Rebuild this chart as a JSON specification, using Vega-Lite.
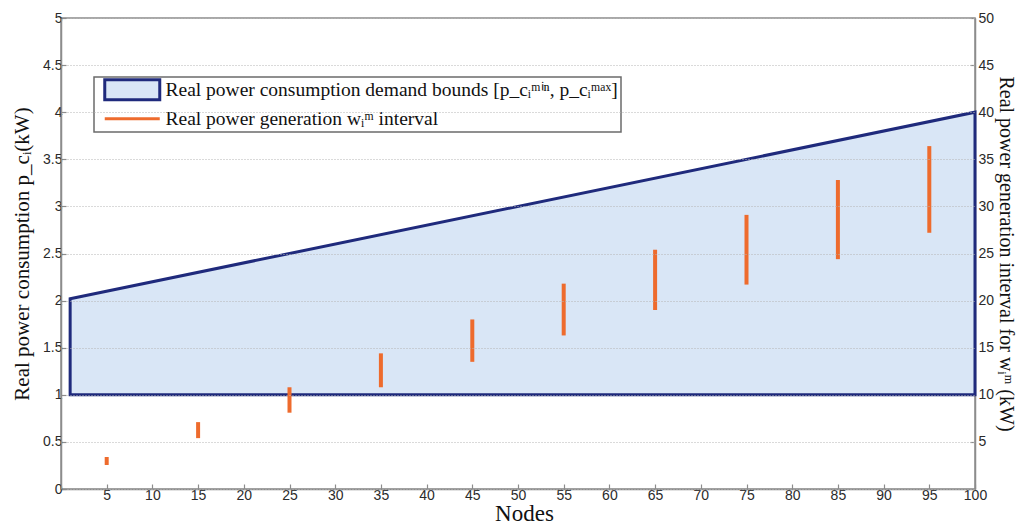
{
  "$schema": "https://vega.github.io/schema/vega-lite/v6.json",
  "width": 914,
  "height": 471,
  "autosize": {"type": "none"},
  "padding": {"left": 61, "top": 18, "right": 43, "bottom": 36},
  "background": "white",
  "config": {
    "view": {"stroke": "#8c8c8c", "strokeWidth": 1.5},
    "axis": {
      "labelFont": "Liberation Sans",
      "labelFontSize": 14,
      "labelColor": "#2a2a2a",
      "titleFont": "Liberation Serif",
      "titleFontSize": 21,
      "titleFontWeight": "normal",
      "titleColor": "#111111",
      "domainColor": "#8c8c8c",
      "domainWidth": 1.5,
      "tickColor": "#8c8c8c",
      "tickWidth": 1.2,
      "tickSize": -5
    },
    "legend": {
      "orient": "none", "legendX": 33, "legendY": 59,
      "title": null,
      "fillColor": "white", "strokeColor": "#6b6b6b",
      "padding": 3,
      "labelFont": "Liberation Serif", "labelFontSize": 19.5, "labelColor": "#111111", "labelLimit": 0,
      "symbolSize": 100, "labelOffset": 49, "rowPadding": 2
    }
  },
  "datasets": {
    "demand": [
      {"node": 1, "lower": 1, "upper": 2.02},
      {"node": 100, "lower": 1, "upper": 4.0}
    ],
    "gen": [
      {"node": 5, "lo": 2.55, "hi": 3.4, "series": "Real power generation wᵢᵐ interval"},
      {"node": 15, "lo": 5.4, "hi": 7.1, "series": "Real power generation wᵢᵐ interval"},
      {"node": 25, "lo": 8.1, "hi": 10.8, "series": "Real power generation wᵢᵐ interval"},
      {"node": 35, "lo": 10.8, "hi": 14.4, "series": "Real power generation wᵢᵐ interval"},
      {"node": 45, "lo": 13.5, "hi": 18.0, "series": "Real power generation wᵢᵐ interval"},
      {"node": 55, "lo": 16.3, "hi": 21.8, "series": "Real power generation wᵢᵐ interval"},
      {"node": 65, "lo": 19.0, "hi": 25.4, "series": "Real power generation wᵢᵐ interval"},
      {"node": 75, "lo": 21.7, "hi": 29.1, "series": "Real power generation wᵢᵐ interval"},
      {"node": 85, "lo": 24.4, "hi": 32.8, "series": "Real power generation wᵢᵐ interval"},
      {"node": 95, "lo": 27.2, "hi": 36.4, "series": "Real power generation wᵢᵐ interval"}
    ]
  },
  "layer": [
    {
      "data": {"name": "demand"},
      "mark": {"type": "area", "fill": "#d9e6f6", "stroke": "#1f2a7c", "strokeWidth": 3, "strokeJoin": "miter", "opacity": 1},
      "encoding": {
        "x": {
          "field": "node", "type": "quantitative",
          "scale": {"domain": [0, 100], "nice": false, "zero": false},
          "axis": {"values": [5,10,15,20,25,30,35,40,45,50,55,60,65,70,75,80,85,90,95,100], "grid": false, "title": "Nodes", "titleFontSize": 23, "titlePadding": 0, "titleX": 463, "labelPadding": 4, "labelFlush": false}
        },
        "y": {
          "field": "upper", "type": "quantitative",
          "scale": {"domain": [0, 5], "nice": false},
          "axis": {
            "orient": "left",
            "values": [0,0.5,1,1.5,2,2.5,3,3.5,4,4.5,5],
            "labelExpr": "'' + datum.value",
            "grid": true, "gridColor": "#b5b5b5", "gridDash": [1, 2], "gridWidth": 1,
            "zindex": 1,
            "title": "Real power consumption p_cᵢ(kW)",
            "titlePadding": 10, "labelPadding": 4
          }
        },
        "y2": {"field": "lower"}
      }
    },
    {
      "data": {"name": "gen"},
      "mark": {"type": "rule", "strokeWidth": 4},
      "encoding": {
        "x": {"field": "node", "type": "quantitative"},
        "y": {
          "field": "lo", "type": "quantitative",
          "scale": {"domain": [0, 50], "nice": false},
          "axis": {
            "orient": "right",
            "values": [5,10,15,20,25,30,35,40,45,50],
            "grid": false,
            "title": "Real power generation interval for wᵢᵐ (kW)",
            "titleFontSize": 20,
            "titlePadding": 2, "labelPadding": 8
          }
        },
        "y2": {"field": "hi"},
        "color": {
          "field": "series", "type": "nominal",
          "scale": {
            "domain": ["Real power consumption demand bounds [p_cᵢᵐⁱⁿ, p_cᵢᵐᵃˣ]", "Real power generation wᵢᵐ interval"],
            "range": ["#1f2a7c", "#ee6b2d"]
          },
          "legend": {
            "encode": {
              "legend": {"update": {"strokeWidth": {"value": 1.5}}},
              "symbols": {
                "update": {
                  "shape": {"signal": "datum.index === 0 ? 'M-0.4,-2.0H10.6V2.0H-0.4Z' : 'M-0.4,0H10.6'"},
                  "fill": {"signal": "datum.index === 0 ? '#d9e6f6' : 'transparent'"},
                  "strokeWidth": {"value": 3},
                  "opacity": {"value": 1}
                }
              }
            }
          }
        }
      }
    }
  ],
  "resolve": {"scale": {"y": "independent"}}
}
